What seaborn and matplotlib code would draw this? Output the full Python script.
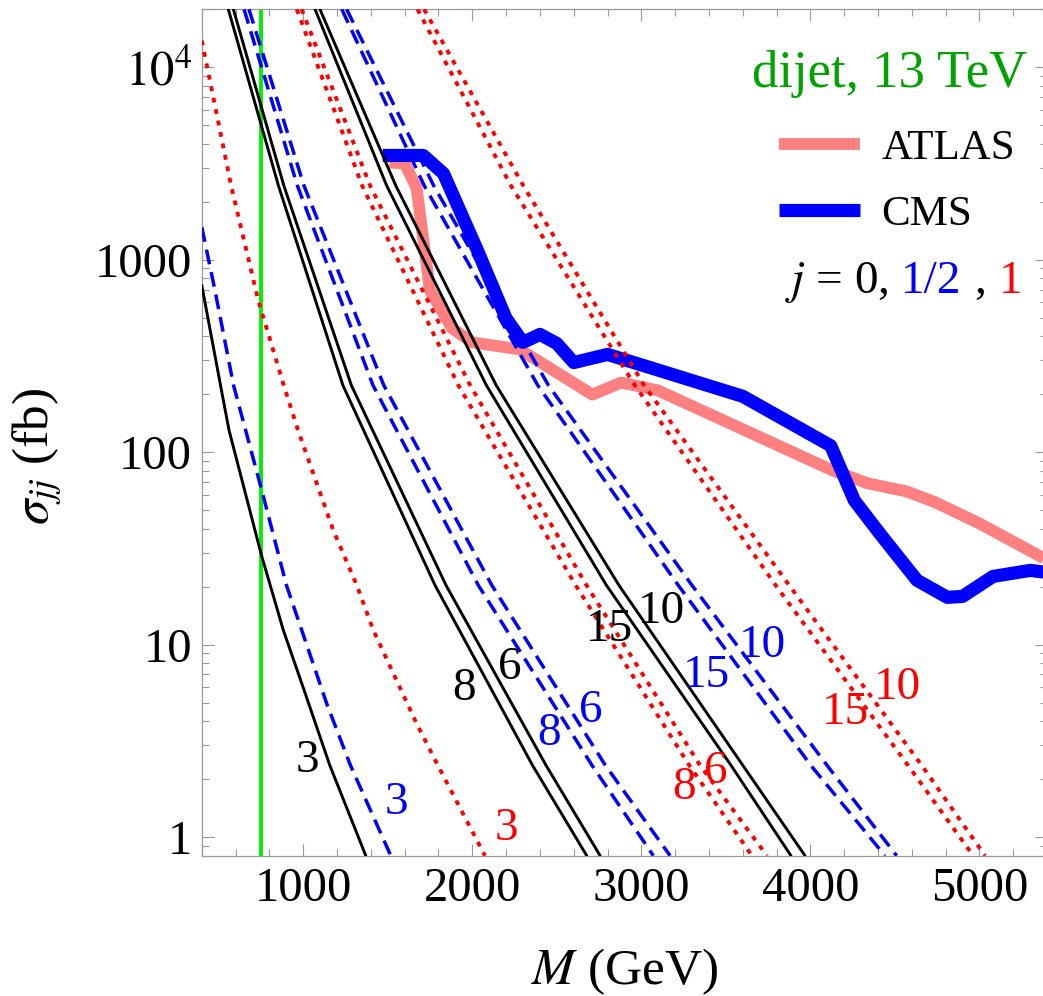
import matplotlib
matplotlib.use("Agg")
import matplotlib.pyplot as plt
import seaborn as sns
import pandas as pd
from matplotlib.ticker import FixedLocator, MultipleLocator, LogLocator, NullFormatter, FixedFormatter
from matplotlib.offsetbox import TextArea, HPacker, AnchoredOffsetbox

# ---------------- data ----------------
# dijet cross section sigma_jj (fb) against resonance mass M (GeV)

# cross-section levels at which the n = 6, 8, 10, 15 curves are tabulated
sigma_grid = [2.0e4, 2430, 222, 20.3, 2.36, 0.8]

# spin j = 0
M_j0_n3 = [400, 511, 561, 753, 882, 1011, 1157, 1370]
sigma_j0_n3 = [735, 222, 130, 29.1, 11.9, 5.6, 2.36, 0.8]
M_j0_n8 = [557, 853, 1235, 1780, 2356, 2677]
M_j0_n6 = [587, 885, 1285, 1845, 2436, 2756]
M_j0_n15 = [1070, 1493, 2084, 2794, 3530, 3885]
M_j0_n10 = [1099, 1547, 2142, 2868, 3600, 3968]

# spin j = 1/2
M_j12_n3 = [400, 478, 588, 755, 901, 1139, 1279, 1518]
sigma_j12_n3 = [1475, 692, 222, 63.2, 20.3, 4.93, 2.36, 0.8]
M_j12_n8 = [650, 965, 1413, 2036, 2708, 3071]
M_j12_n6 = [679, 1004, 1477, 2116, 2787, 3170]
M_j12_n15 = [1228, 1715, 2388, 3219, 4002, 4441]
M_j12_n10 = [1257, 1771, 2451, 3300, 4098, 4510]

# spin j = 1
M_j1_n3 = [400, 468, 573, 734, 885, 969, 1178, 1317, 1415, 1671, 1796, 2075]
sigma_j1_n3 = [13760, 6980, 2430, 614, 222, 130, 39.2, 20.3, 11.85, 3.88, 2.36, 0.8]
M_j1_n8 = [962, 1348, 1918, 2612, 3283, 3654]
M_j1_n6 = [991, 1395, 1988, 2676, 3347, 3743]
M_j1_n15 = [1676, 2228, 2962, 3795, 4577, 4963]
M_j1_n10 = [1715, 2301, 3017, 3875, 4658, 5033]

# experimental upper limits
M_atlas = [1510, 1600, 1670, 1750, 1880, 2000, 2280, 2710, 2880, 3100, 4130, 4340, 4570, 4740, 5000, 5400]
sigma_atlas = [3200, 3160, 2370, 690, 440, 372, 342, 199, 230, 209, 80.4, 68.8, 62.5, 54.8, 42.6, 27.5]
M_cms = [1470, 1710, 1830, 2030, 2200, 2300, 2400, 2500, 2600, 2800, 3600, 4120, 4260, 4410, 4630,
         4810, 4900, 5080, 5300, 5400]
sigma_cms = [3480, 3480, 2800, 1120, 495, 372, 409, 367, 292, 322, 195, 108, 56.1, 37.8, 21.6,
             17.6, 17.8, 22.6, 24.3, 23.7]

# lower mass cut
M_cut = 750

spins = ["0", "1/2", "1"]
x_ticks = [1000, 2000, 3000, 4000, 5000]
y_ticks = [1, 10, 100, 1000, 1e4]
y_tick_labels = ["1", "10", "100", "1000", r"$10^4$"]

# ---------------- long table for the model curves ----------------
curves = {
    ("0", "3"): (M_j0_n3, sigma_j0_n3),
    ("0", "8"): (M_j0_n8, sigma_grid),
    ("0", "6"): (M_j0_n6, sigma_grid),
    ("0", "15"): (M_j0_n15, sigma_grid),
    ("0", "10"): (M_j0_n10, sigma_grid),
    ("1/2", "3"): (M_j12_n3, sigma_j12_n3),
    ("1/2", "8"): (M_j12_n8, sigma_grid),
    ("1/2", "6"): (M_j12_n6, sigma_grid),
    ("1/2", "15"): (M_j12_n15, sigma_grid),
    ("1/2", "10"): (M_j12_n10, sigma_grid),
    ("1", "3"): (M_j1_n3, sigma_j1_n3),
    ("1", "8"): (M_j1_n8, sigma_grid),
    ("1", "6"): (M_j1_n6, sigma_grid),
    ("1", "15"): (M_j1_n15, sigma_grid),
    ("1", "10"): (M_j1_n10, sigma_grid),
}
rows = []
for (spin, n), (ms, ss) in curves.items():
    for m, s in zip(ms, ss):
        rows.append({"spin": spin, "n": n, "M": m, "sigma": s})
df = pd.DataFrame(rows)

spin_colors = {"0": "#000000", "1/2": "#0000ff", "1": "#ff0000"}
spin_dashes = {"0": "", "1/2": (4.3, 2.3), "1": (1.25, 1.75)}
spin_widths = {"0": 2.1, "1/2": 2.5, "1": 2.8}

# curve labels: (text, spin, M, sigma)
curve_labels = [
    ("3", "0", 1025, 2.50), ("8", "0", 1951, 5.92), ("6", "0", 2223, 7.61),
    ("15", "0", 2809, 12.0), ("10", "0", 3116, 14.9),
    ("3", "1/2", 1549, 1.50), ("8", "1/2", 2454, 3.46), ("6", "1/2", 2702, 4.55),
    ("15", "1/2", 3388, 6.92), ("10", "1/2", 3714, 9.90),
    ("3", "1", 2199, 1.10), ("8", "1", 3252, 1.81), ("6", "1", 3442, 2.19),
    ("15", "1", 4210, 4.44), ("10", "1", 4512, 6.00),
]

# ---------------- style ----------------
sns.set_style("ticks")
plt.rcParams["font.family"] = ["Liberation Serif", "DejaVu Serif"]
plt.rcParams["mathtext.fontset"] = "stix"
plt.rcParams["text.color"] = "black"
plt.rcParams["axes.labelcolor"] = "black"

fig = plt.figure(figsize=(10.43, 9.96), dpi=100)
ax = fig.add_axes([0.19348, 0.14086, 0.81045, 0.84980])
ax.set_yscale("log")

# lower mass cut
ax.axvline(M_cut, color="#00f000", lw=2.8, zorder=1)

# experimental limits
sns.lineplot(x=M_atlas, y=sigma_atlas, ax=ax, color="#ff8080", lw=8.5, sort=False,
             estimator=None, solid_capstyle="butt", zorder=2, label="ATLAS")
atlas_line = ax.lines[-1]
sns.lineplot(x=M_cms, y=sigma_cms, ax=ax, color="#0000ff", lw=9.5, sort=False,
             estimator=None, solid_capstyle="butt", zorder=2.5, label="CMS")
cms_line = ax.lines[-1]

# model curves, one call per spin so each family keeps its own stroke width
for spin in spins:
    sub = df[df["spin"] == spin]
    sns.lineplot(data=sub, x="M", y="sigma", hue="spin", style="spin", units="n",
                 estimator=None, palette=spin_colors, dashes=spin_dashes,
                 hue_order=[spin], style_order=[spin], lw=spin_widths[spin], sort=True,
                 legend=False, ax=ax, zorder=3)

for text, spin, m, s in curve_labels:
    ax.text(m, s, text, color=spin_colors[spin], fontsize=34, ha="center",
            va="center", zorder=4)

# ---------------- axes ----------------
ax.set_xlim(400, 5400)
ax.set_ylim(0.8, 2.0e4)
ax.xaxis.set_major_locator(FixedLocator(x_ticks))
ax.xaxis.set_minor_locator(MultipleLocator(200))
ax.yaxis.set_major_locator(FixedLocator(y_ticks))
ax.yaxis.set_major_formatter(FixedFormatter(y_tick_labels))
ax.yaxis.set_minor_locator(LogLocator(base=10, subs=range(2, 10), numticks=20))
ax.yaxis.set_minor_formatter(NullFormatter())

ax.tick_params(which="both", direction="in", top=True, right=True, color="#999999",
               width=0.8, labelsize=35, labelcolor="black")
ax.tick_params(which="major", length=8.6)
ax.tick_params(which="minor", length=5)
ax.tick_params(axis="x", which="major", pad=8)
ax.tick_params(axis="y", which="major", pad=7)
for sp in ax.spines.values():
    sp.set_color("#999999")
    sp.set_linewidth(0.9)

ax.set_xlabel(r"$M$ (GeV)", fontsize=37)
ax.xaxis.set_label_coords(0.5004, -0.1516)
ax.xaxis.label.set_va("baseline")
ax.set_ylabel(r"$\sigma_{jj}$ (fb)", fontsize=37)
ax.yaxis.set_label_coords(-0.194, 0.472)
ax.yaxis.label.set_va("center")

# ---------------- annotations ----------------
ax.text(0.9763, 0.9082, "dijet, 13 TeV", transform=ax.transAxes, color="#00a300",
        fontsize=38, ha="right", va="baseline")

ax.legend(handles=[atlas_line, cms_line], labels=["ATLAS", "CMS"], loc="upper left",
          bbox_to_anchor=(0.6831, 0.8585), frameon=False, fontsize=31,
          handlelength=1.88, handletextpad=0.5, labelspacing=0.62,
          borderpad=0, borderaxespad=0)

parts = [("$j$ = 0,", "black"), ("1/2", "#0000ff"), (",", "black"), ("1", "#ff0000")]
boxes = [TextArea(t, textprops=dict(color=c, fontsize=34)) for t, c in parts]
pack = HPacker(children=boxes, align="baseline", pad=0, sep=9)
ab = AnchoredOffsetbox(loc="lower right", child=pack, pad=0, borderpad=0, frameon=False,
                       bbox_to_anchor=(0.9706, 0.6506), bbox_transform=ax.transAxes)
ax.add_artist(ab)

fig.savefig("out.png", dpi=100)
